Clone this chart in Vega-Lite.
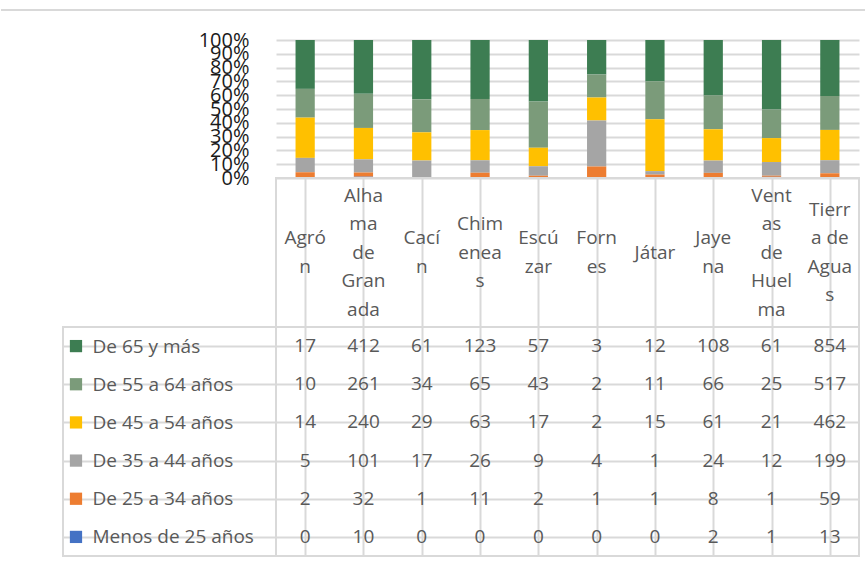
{
  "$schema": "https://vega.github.io/schema/vega-lite/v6.json",
  "padding": 0,
  "background": "white",
  "config": {"view": {"stroke": null}, "font": "Open Sans", "text": {"font": "Open Sans"}},
  "datasets": {
    "pop": [
      {"municipio": "Agrón", "grupo": "De 65 y más", "n": 17},
      {"municipio": "Alhama de Granada", "grupo": "De 65 y más", "n": 412},
      {"municipio": "Cacín", "grupo": "De 65 y más", "n": 61},
      {"municipio": "Chimeneas", "grupo": "De 65 y más", "n": 123},
      {"municipio": "Escúzar", "grupo": "De 65 y más", "n": 57},
      {"municipio": "Fornes", "grupo": "De 65 y más", "n": 3},
      {"municipio": "Játar", "grupo": "De 65 y más", "n": 12},
      {"municipio": "Jayena", "grupo": "De 65 y más", "n": 108},
      {"municipio": "Ventas de Huelma", "grupo": "De 65 y más", "n": 61},
      {"municipio": "Tierra de Aguas", "grupo": "De 65 y más", "n": 854},
      {"municipio": "Agrón", "grupo": "De 55 a 64 años", "n": 10},
      {"municipio": "Alhama de Granada", "grupo": "De 55 a 64 años", "n": 261},
      {"municipio": "Cacín", "grupo": "De 55 a 64 años", "n": 34},
      {"municipio": "Chimeneas", "grupo": "De 55 a 64 años", "n": 65},
      {"municipio": "Escúzar", "grupo": "De 55 a 64 años", "n": 43},
      {"municipio": "Fornes", "grupo": "De 55 a 64 años", "n": 2},
      {"municipio": "Játar", "grupo": "De 55 a 64 años", "n": 11},
      {"municipio": "Jayena", "grupo": "De 55 a 64 años", "n": 66},
      {"municipio": "Ventas de Huelma", "grupo": "De 55 a 64 años", "n": 25},
      {"municipio": "Tierra de Aguas", "grupo": "De 55 a 64 años", "n": 517},
      {"municipio": "Agrón", "grupo": "De 45 a 54 años", "n": 14},
      {"municipio": "Alhama de Granada", "grupo": "De 45 a 54 años", "n": 240},
      {"municipio": "Cacín", "grupo": "De 45 a 54 años", "n": 29},
      {"municipio": "Chimeneas", "grupo": "De 45 a 54 años", "n": 63},
      {"municipio": "Escúzar", "grupo": "De 45 a 54 años", "n": 17},
      {"municipio": "Fornes", "grupo": "De 45 a 54 años", "n": 2},
      {"municipio": "Játar", "grupo": "De 45 a 54 años", "n": 15},
      {"municipio": "Jayena", "grupo": "De 45 a 54 años", "n": 61},
      {"municipio": "Ventas de Huelma", "grupo": "De 45 a 54 años", "n": 21},
      {"municipio": "Tierra de Aguas", "grupo": "De 45 a 54 años", "n": 462},
      {"municipio": "Agrón", "grupo": "De 35 a 44 años", "n": 5},
      {"municipio": "Alhama de Granada", "grupo": "De 35 a 44 años", "n": 101},
      {"municipio": "Cacín", "grupo": "De 35 a 44 años", "n": 17},
      {"municipio": "Chimeneas", "grupo": "De 35 a 44 años", "n": 26},
      {"municipio": "Escúzar", "grupo": "De 35 a 44 años", "n": 9},
      {"municipio": "Fornes", "grupo": "De 35 a 44 años", "n": 4},
      {"municipio": "Játar", "grupo": "De 35 a 44 años", "n": 1},
      {"municipio": "Jayena", "grupo": "De 35 a 44 años", "n": 24},
      {"municipio": "Ventas de Huelma", "grupo": "De 35 a 44 años", "n": 12},
      {"municipio": "Tierra de Aguas", "grupo": "De 35 a 44 años", "n": 199},
      {"municipio": "Agrón", "grupo": "De 25 a 34 años", "n": 2},
      {"municipio": "Alhama de Granada", "grupo": "De 25 a 34 años", "n": 32},
      {"municipio": "Cacín", "grupo": "De 25 a 34 años", "n": 1},
      {"municipio": "Chimeneas", "grupo": "De 25 a 34 años", "n": 11},
      {"municipio": "Escúzar", "grupo": "De 25 a 34 años", "n": 2},
      {"municipio": "Fornes", "grupo": "De 25 a 34 años", "n": 1},
      {"municipio": "Játar", "grupo": "De 25 a 34 años", "n": 1},
      {"municipio": "Jayena", "grupo": "De 25 a 34 años", "n": 8},
      {"municipio": "Ventas de Huelma", "grupo": "De 25 a 34 años", "n": 1},
      {"municipio": "Tierra de Aguas", "grupo": "De 25 a 34 años", "n": 59},
      {"municipio": "Agrón", "grupo": "Menos de 25 años", "n": 0},
      {"municipio": "Alhama de Granada", "grupo": "Menos de 25 años", "n": 10},
      {"municipio": "Cacín", "grupo": "Menos de 25 años", "n": 0},
      {"municipio": "Chimeneas", "grupo": "Menos de 25 años", "n": 0},
      {"municipio": "Escúzar", "grupo": "Menos de 25 años", "n": 0},
      {"municipio": "Fornes", "grupo": "Menos de 25 años", "n": 0},
      {"municipio": "Játar", "grupo": "Menos de 25 años", "n": 0},
      {"municipio": "Jayena", "grupo": "Menos de 25 años", "n": 2},
      {"municipio": "Ventas de Huelma", "grupo": "Menos de 25 años", "n": 1},
      {"municipio": "Tierra de Aguas", "grupo": "Menos de 25 años", "n": 13}
    ],
    "munis": [
      {"municipio": "Agrón", "wrap": "Agró|n"},
      {"municipio": "Alhama de Granada", "wrap": "Alha|ma|de|Gran|ada"},
      {"municipio": "Cacín", "wrap": "Cací|n"},
      {"municipio": "Chimeneas", "wrap": "Chim|enea|s"},
      {"municipio": "Escúzar", "wrap": "Escú|zar"},
      {"municipio": "Fornes", "wrap": "Forn|es"},
      {"municipio": "Játar", "wrap": "Játar"},
      {"municipio": "Jayena", "wrap": "Jaye|na"},
      {"municipio": "Ventas de Huelma", "wrap": "Vent|as|de|Huel|ma"},
      {"municipio": "Tierra de Aguas", "wrap": "Tierr|a de|Agua|s"}
    ],
    "grupos": [
      {"grupo": "De 65 y más"},
      {"grupo": "De 55 a 64 años"},
      {"grupo": "De 45 a 54 años"},
      {"grupo": "De 35 a 44 años"},
      {"grupo": "De 25 a 34 años"},
      {"grupo": "Menos de 25 años"}
    ]
  },
  "columns": 3,
  "spacing": 0,
  "bounds": "flush",
  "concat": [
    {"width": 62, "height": 40, "data": {"values": [{}]}, "mark": {"type": "rule", "color": "#d9d9d9", "strokeWidth": 2},
      "encoding": {"y": {"datum": 3, "type": "quantitative", "scale": {"domain": [0, 4]}, "axis": null}}},
    {"width": 213, "height": 40, "data": {"values": [{}]}, "mark": {"type": "rule", "color": "#d9d9d9", "strokeWidth": 2},
      "encoding": {"y": {"datum": 3, "type": "quantitative", "scale": {"domain": [0, 4]}, "axis": null}}},
    {"width": 590, "height": 40, "data": {"values": [{}]}, "mark": {"type": "rule", "color": "#d9d9d9", "strokeWidth": 2},
      "encoding": {"y": {"datum": 3, "type": "quantitative", "scale": {"domain": [0, 4]}, "axis": null}}},

    {"width": 62, "height": 138, "data": {"values": [{}]}, "mark": {"type": "text", "text": ""}, "encoding": {}},
    {"width": 213, "height": 138, "data": {"values": [{}]}, "mark": {"type": "text", "text": ""}, "encoding": {}},
    {
      "width": 583,
      "height": 138,
      "data": {"name": "pop"},
      "transform": [
        {"calculate": "indexof(['Menos de 25 años', 'De 25 a 34 años', 'De 35 a 44 años', 'De 45 a 54 años', 'De 55 a 64 años', 'De 65 y más'], datum.grupo)", "as": "orden"}
      ],
      "mark": {"type": "bar", "width": {"band": 0.33}},
      "encoding": {
        "x": {"field": "municipio", "type": "nominal",
          "scale": {"domain": ["Agrón", "Alhama de Granada", "Cacín", "Chimeneas", "Escúzar", "Fornes", "Játar", "Jayena", "Ventas de Huelma", "Tierra de Aguas"], "paddingInner": 0, "paddingOuter": 0},
          "axis": null},
        "y": {"field": "n", "type": "quantitative", "stack": "normalize", "scale": {"domain": [0, 1]},
          "axis": {"values": [0, 0.1, 0.2, 0.3, 0.4, 0.5, 0.6, 0.7, 0.8, 0.9, 1], "format": ".0%", "labelFontSize": 20, "labelFont": "Open Sans", "labelColor": "#1a1a1a", "labelPadding": 27, "ticks": false, "domain": false, "grid": true, "gridColor": "#d9d9d9", "gridWidth": 2, "title": null, "labelOverlap": false, "labelFlush": false}},
        "color": {"field": "grupo", "type": "nominal",
          "scale": {"domain": ["De 65 y más", "De 55 a 64 años", "De 45 a 54 años", "De 35 a 44 años", "De 25 a 34 años", "Menos de 25 años"],
            "range": ["#3d7d52", "#7b9b7a", "#ffc000", "#a5a5a5", "#ed7d31", "#4472c4"]},
          "legend": null},
        "order": {"field": "orden", "type": "quantitative", "sort": "ascending"}
      }
    },

    {"width": 62, "height": 149, "data": {"values": [{}]}, "mark": {"type": "text", "text": ""}, "encoding": {}},
    {"width": 213, "height": 149, "data": {"values": [{}]}, "mark": {"type": "text", "text": ""}, "encoding": {}},
    {
      "width": 583,
      "height": 149,
      "view": {"stroke": "#d9d9d9", "strokeWidth": 2},
      "data": {"name": "munis"},
      "mark": {"type": "text", "lineBreak": "|", "lineHeight": 28.5, "fontSize": 19, "font": "Open Sans", "color": "#595959", "baseline": "middle",
        "dy": {"expr": "-(length(split(datum.wrap, '|')) - 1) * 14.25"}},
      "encoding": {
        "x": {"field": "municipio", "type": "nominal",
          "scale": {"domain": ["Agrón", "Alhama de Granada", "Cacín", "Chimeneas", "Escúzar", "Fornes", "Játar", "Jayena", "Ventas de Huelma", "Tierra de Aguas"], "paddingInner": 0, "paddingOuter": 0},
          "axis": {"grid": true, "bandPosition": 0, "labels": false, "ticks": false, "domain": false, "title": null, "gridColor": "#d9d9d9", "gridWidth": 2}},
        "text": {"field": "wrap"}
      }
    },

    {"width": 62, "height": 229, "data": {"values": [{}]}, "mark": {"type": "text", "text": ""}, "encoding": {}},
    {
      "width": 213,
      "height": 229,
      "view": {"stroke": "#d9d9d9", "strokeWidth": 2},
      "data": {"name": "grupos"},
      "mark": {"type": "square", "size": 150, "filled": true, "opacity": 1},
      "encoding": {
        "x": {"datum": 0, "type": "quantitative", "scale": {"domain": [-1, 15.4]}, "axis": null},
        "y": {"field": "grupo", "type": "nominal",
          "scale": {"domain": ["De 65 y más", "De 55 a 64 años", "De 45 a 54 años", "De 35 a 44 años", "De 25 a 34 años", "Menos de 25 años"], "paddingInner": 0, "paddingOuter": 0},
          "axis": {"grid": true, "bandPosition": 0, "gridColor": "#d9d9d9", "gridWidth": 2, "ticks": false, "tickSize": 0, "domain": false, "title": null, "labelAlign": "left", "labelBaseline": "middle", "labelPadding": -29, "labelFontSize": 19, "labelFont": "Open Sans", "labelColor": "#595959", "labelLimit": 300}},
        "color": {"field": "grupo", "type": "nominal",
          "scale": {"domain": ["De 65 y más", "De 55 a 64 años", "De 45 a 54 años", "De 35 a 44 años", "De 25 a 34 años", "Menos de 25 años"],
            "range": ["#3d7d52", "#7b9b7a", "#ffc000", "#a5a5a5", "#ed7d31", "#4472c4"]},
          "legend": null}
      }
    },
    {
      "width": 583,
      "height": 229,
      "view": {"stroke": "#d9d9d9", "strokeWidth": 2},
      "data": {"name": "pop"},
      "mark": {"type": "text", "fontSize": 19, "font": "Open Sans", "color": "#595959", "baseline": "middle"},
      "encoding": {
        "x": {"field": "municipio", "type": "nominal",
          "scale": {"domain": ["Agrón", "Alhama de Granada", "Cacín", "Chimeneas", "Escúzar", "Fornes", "Játar", "Jayena", "Ventas de Huelma", "Tierra de Aguas"], "paddingInner": 0, "paddingOuter": 0},
          "axis": {"grid": true, "bandPosition": 0, "labels": false, "ticks": false, "domain": false, "title": null, "gridColor": "#d9d9d9", "gridWidth": 2}},
        "y": {"field": "grupo", "type": "nominal",
          "scale": {"domain": ["De 65 y más", "De 55 a 64 años", "De 45 a 54 años", "De 35 a 44 años", "De 25 a 34 años", "Menos de 25 años"], "paddingInner": 0, "paddingOuter": 0},
          "axis": {"grid": true, "bandPosition": 0, "labels": false, "ticks": false, "domain": false, "title": null, "gridColor": "#d9d9d9", "gridWidth": 2}},
        "text": {"field": "n", "type": "quantitative"}
      }
    }
  ]
}
